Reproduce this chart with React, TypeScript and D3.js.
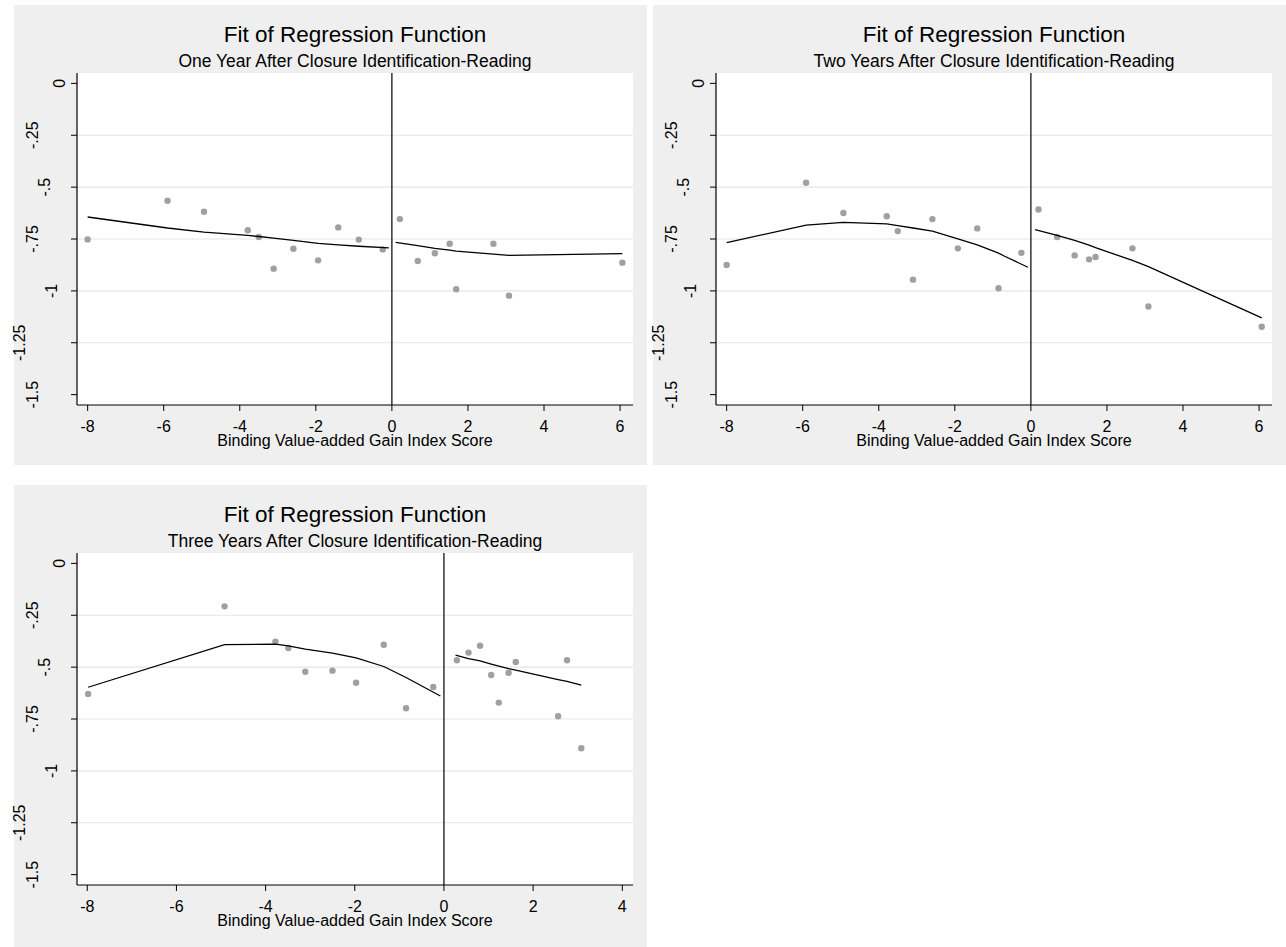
import React from "react";
import * as d3 from "d3";

// axis ticks
const yTickValues = [0, -0.25, -0.5, -0.75, -1, -1.25, -1.5];
const yTickLabels = ["0", "-.25", "-.5", "-.75", "-1", "-1.25", "-1.5"];
const yGridValues = [-0.25, -0.5, -0.75, -1, -1.25];
const xTicksWide = [-8, -6, -4, -2, 0, 2, 4, 6];
const xTicksNarrow = [-8, -6, -4, -2, 0, 2, 4];

const titleText = "Fit of Regression Function";
const xAxisTitle = "Binding Value-added Gain Index Score";

// panel 1: one year after
const oneYearSubtitle = "One Year After Closure Identification-Reading";
const oneYearPtX = [-8.0, -5.9, -4.94, -3.79, -3.5, -3.11, -2.59, -1.94, -1.41, -0.87, -0.24, 0.21, 0.68, 1.13, 1.52, 1.69, 2.67, 3.08, 6.06];
const oneYearPtY = [-0.752, -0.566, -0.619, -0.708, -0.74, -0.893, -0.797, -0.853, -0.694, -0.753, -0.8, -0.654, -0.856, -0.819, -0.773, -0.992, -0.773, -1.023, -0.864];
const oneYearLeftX = [-8.0, -5.9, -4.94, -3.79, -3.5, -3.11, -2.59, -1.94, -1.41, -0.87, -0.08];
const oneYearLeftY = [-0.644, -0.697, -0.717, -0.733, -0.738, -0.746, -0.757, -0.771, -0.778, -0.785, -0.793];
const oneYearRightX = [0.1, 0.68, 1.13, 1.52, 1.69, 2.67, 3.08, 6.06];
const oneYearRightY = [-0.766, -0.782, -0.795, -0.804, -0.808, -0.823, -0.829, -0.82];

// panel 2: two years after
const twoYearSubtitle = "Two Years After Closure Identification-Reading";
const twoYearPtX = [-8.0, -5.91, -4.93, -3.79, -3.5, -3.1, -2.59, -1.92, -1.41, -0.85, -0.25, 0.2, 0.69, 1.15, 1.53, 1.7, 2.67, 3.09, 6.07];
const twoYearPtY = [-0.875, -0.479, -0.625, -0.64, -0.712, -0.946, -0.654, -0.795, -0.699, -0.987, -0.817, -0.608, -0.74, -0.829, -0.848, -0.837, -0.795, -1.075, -1.173];
const twoYearLeftX = [-8.0, -5.91, -4.93, -3.79, -3.5, -3.1, -2.59, -1.92, -1.41, -0.85, -0.69, -0.08];
const twoYearLeftY = [-0.768, -0.683, -0.67, -0.677, -0.686, -0.697, -0.712, -0.749, -0.778, -0.818, -0.833, -0.886];
const twoYearRightX = [0.11, 0.69, 1.15, 1.53, 1.7, 2.67, 3.09, 6.07];
const twoYearRightY = [-0.705, -0.733, -0.757, -0.78, -0.792, -0.853, -0.883, -1.13];

// panel 3: three years after
const threeYearSubtitle = "Three Years After Closure Identification-Reading";
const threeYearPtX = [-7.98, -4.92, -3.78, -3.49, -3.11, -2.5, -1.97, -1.35, -0.85, -0.24, 0.29, 0.55, 0.81, 1.06, 1.23, 1.45, 1.61, 2.56, 2.76, 3.08];
const threeYearPtY = [-0.629, -0.207, -0.377, -0.408, -0.522, -0.517, -0.575, -0.392, -0.698, -0.596, -0.467, -0.43, -0.397, -0.538, -0.671, -0.527, -0.475, -0.737, -0.467, -0.891];
const threeYearLeftX = [-7.98, -4.92, -3.78, -3.49, -3.11, -2.5, -1.97, -1.35, -0.85, -0.08];
const threeYearLeftY = [-0.597, -0.392, -0.389, -0.398, -0.413, -0.433, -0.455, -0.497, -0.55, -0.639];
const threeYearRightX = [0.26, 0.55, 0.81, 1.06, 1.23, 1.45, 1.61, 2.56, 2.76, 3.08];
const threeYearRightY = [-0.442, -0.459, -0.47, -0.485, -0.495, -0.507, -0.514, -0.56, -0.569, -0.587];

const FONT = "'Liberation Sans', Arial, sans-serif";
const BG = "#efefef";

// rough Arial glyph widths, used to place the rotated y labels like Stata does
const charW = (c: string) => (c === "-" ? 0.333 : c === "." ? 0.278 : 0.556);
const textW = (s: string, size: number) => s.split("").reduce((a, c) => a + charW(c), 0) * size;

const zip = (xs: number[], ys: number[]) => xs.map((x, i) => [x, ys[i]] as [number, number]);

type PanelProps = {
  left: number;
  top: number;
  height: number;
  subtitle: string;
  xDomain: [number, number];
  xTicks: number[];
  ptX: number[];
  ptY: number[];
  leftX: number[];
  leftY: number[];
  rightX: number[];
  rightY: number[];
};

const Panel = ({ left, top, height, subtitle, xDomain, xTicks, ptX, ptY, leftX, leftY, rightX, rightY }: PanelProps) => {
  const width = 633;
  const plot = { l: 63, r: 619, t: 68, b: 400 };
  const x = d3.scaleLinear().domain(xDomain).range([plot.l, plot.r]);
  const y = d3.scaleLinear().domain([-1.55, 0.05]).range([plot.b, plot.t]);
  const line = d3.line<[number, number]>().x(d => x(d[0])).y(d => y(d[1]));
  const cx = (plot.l + plot.r) / 2;

  return (
    <g transform={`translate(${left}, ${top})`} fontFamily={FONT}>
      <rect x={0} y={0} width={width} height={height} fill={BG} />
      <rect x={plot.l} y={plot.t} width={plot.r - plot.l} height={plot.b - plot.t} fill="#ffffff" />
      <text x={cx} y={37} textAnchor="middle" fontSize={22.5} fill="#000">{titleText}</text>
      <text x={cx} y={61.5} textAnchor="middle" fontSize={17.5} fill="#000">{subtitle}</text>

      {yGridValues.map(v => (
        <line key={"g" + v} x1={plot.l} x2={plot.r} y1={y(v)} y2={y(v)} stroke="#e6e6e6" strokeWidth={1.2} />
      ))}

      {/* y axis */}
      <line x1={plot.l} x2={plot.l} y1={plot.t} y2={plot.b} stroke="#000" strokeWidth={1.2} />
      {yTickValues.map((v, i) => {
        const lab = yTickLabels[i];
        const c = 57.9 - 1.45 * textW(lab, 16);
        return (
          <g key={"y" + v}>
            <line x1={plot.l - 6} x2={plot.l} y1={y(v)} y2={y(v)} stroke="#000" strokeWidth={1} />
            <text transform={`translate(${c + 5.6}, ${y(v)}) rotate(-90)`} textAnchor="middle" fontSize={16} fill="#000">{lab}</text>
          </g>
        );
      })}

      {/* x axis */}
      <line x1={plot.l} x2={plot.r} y1={plot.b} y2={plot.b} stroke="#000" strokeWidth={1.2} />
      {xTicks.map(v => (
        <g key={"x" + v}>
          <line x1={x(v)} x2={x(v)} y1={plot.b} y2={plot.b + 6} stroke="#000" strokeWidth={1} />
          <text x={x(v)} y={426.5} textAnchor="middle" fontSize={16} fill="#000">{v}</text>
        </g>
      ))}
      <text x={cx} y={441} textAnchor="middle" fontSize={16} fill="#000">{xAxisTitle}</text>

      {/* cutoff */}
      <line x1={x(0)} x2={x(0)} y1={plot.t} y2={plot.b} stroke="#000" strokeWidth={1.2} />

      {ptX.map((v, i) => (
        <circle key={"p" + i} cx={x(v)} cy={y(ptY[i])} r={3.2} fill="#a0a0a0" />
      ))}
      <path d={line(zip(leftX, leftY)) || ""} fill="none" stroke="#000" strokeWidth={1.3} />
      <path d={line(zip(rightX, rightY)) || ""} fill="none" stroke="#000" strokeWidth={1.3} />
    </g>
  );
};

export default function App() {
  return (
    <svg width={1286} height={947} style={{ position: "absolute", left: 0, top: 0, background: "#fff" }}>
      <Panel left={14} top={5} height={460} subtitle={oneYearSubtitle} xDomain={[-8.28, 6.34]} xTicks={xTicksWide}
        ptX={oneYearPtX} ptY={oneYearPtY} leftX={oneYearLeftX} leftY={oneYearLeftY} rightX={oneYearRightX} rightY={oneYearRightY} />
      <Panel left={653} top={5} height={460} subtitle={twoYearSubtitle} xDomain={[-8.28, 6.34]} xTicks={xTicksWide}
        ptX={twoYearPtX} ptY={twoYearPtY} leftX={twoYearLeftX} leftY={twoYearLeftY} rightX={twoYearRightX} rightY={twoYearRightY} />
      <Panel left={14} top={485} height={462} subtitle={threeYearSubtitle} xDomain={[-8.23, 4.24]} xTicks={xTicksNarrow}
        ptX={threeYearPtX} ptY={threeYearPtY} leftX={threeYearLeftX} leftY={threeYearLeftY} rightX={threeYearRightX} rightY={threeYearRightY} />
    </svg>
  );
}
